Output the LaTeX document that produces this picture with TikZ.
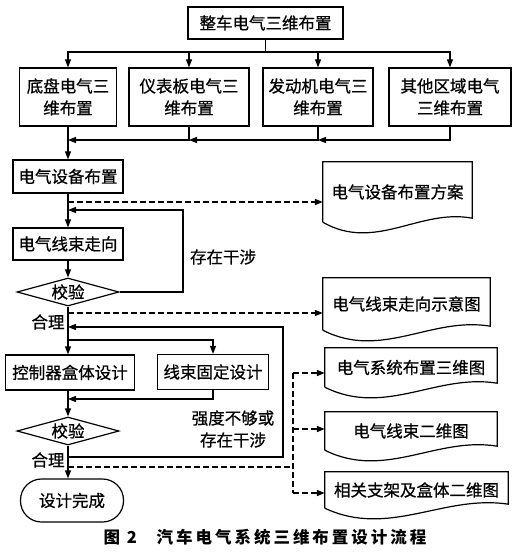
\documentclass[tikz,border=0pt]{standalone}
\usepackage{fontspec}
\setmainfont{Noto Sans CJK SC}[FakeBold=0.7]
\newfontfamily\capfont[LetterSpace=18]{Noto Sans CJK SC}
\usetikzlibrary{shapes.geometric,arrows.meta,calc}
\newcommand\docpath[1]{\draw[lin] (#1.south west) -- (#1.north west) -- (#1.north east) -- ($(#1.south east)+(0pt,4pt)$) .. controls ($(#1.south west)!0.65!(#1.south east)+(0pt,14pt)$) and ($(#1.south west)!0.35!(#1.south east)+(0pt,-30pt)$) .. (#1.south west);}
\begin{document}
\begin{tikzpicture}[x=1pt,y=-1pt,
  txt/.style={font=\fontsize{16.5}{22}\selectfont},
  box/.style={txt,draw,line width=1.2pt,inner sep=0pt,align=center},
  dm/.style={txt,diamond,draw,line width=1.2pt,aspect=3.6,inner sep=0pt,minimum width=102pt,minimum height=28pt},
  docn/.style={txt,inner sep=0pt},
  lin/.style={line width=1.2pt},
  arr/.style={line width=1.2pt,-{Triangle[length=8pt,width=6pt]}},
  darr/.style={arr,line width=1.6pt,dash pattern=on 6pt off 3pt},
  dlin/.style={line width=1.6pt,dash pattern=on 6pt off 3pt}]
\useasboundingbox (0,0) rectangle (529,556);
% top
\node[box,minimum width=155pt,minimum height=32pt] (top) at (265.5,23) {整车电气三维布置};
\node[box,minimum width=97pt,minimum height=58pt] (b1) at (68,97) {底盘电气三\\维布置};
\node[box,minimum width=120pt,minimum height=58pt] (b2) at (189,97) {仪表板电气三\\维布置};
\node[box,minimum width=110pt,minimum height=58pt] (b3) at (318,97) {发动机电气三\\维布置};
\node[box,minimum width=122pt,minimum height=58pt] (b4) at (450,97) {其他区域电气\\三维布置};
\coordinate (j) at (265.5,52);
\draw[lin] (top.south) -- (j);
\draw[arr] (j) -| (b1.north);
\draw[arr] (j) -| (b2.north);
\draw[arr] (j) -| (b3.north);
\draw[arr] (j) -| (b4.north);
\coordinate (jb) at (68,140);
\draw[arr] (b4.south) |- (b3.south |- jb);
\draw[arr] (b3.south) |- (b2.south |- jb);
\draw[arr] (b2.south) |- (b1.south |- jb);
% device layout
\node[box,minimum width=110pt,minimum height=33pt] (dev) at (68,176.5) {电气设备布置};
\draw[arr] (b1.south) -- (dev.north);
\node[docn,minimum width=149pt,minimum height=60pt] (d1) at (397.5,192) {电气设备布置方案};
\docpath{d1}
\coordinate (t1) at (68,202);
\draw[darr] (t1) -- (t1 -| d1.west);
% wiring
\node[box,minimum width=110pt,minimum height=32pt] (wire) at (68,244) {电气线束走向};
\draw[arr] (dev) -- (wire);
\node[dm] (v1) at (68,292) {校验};
\draw[arr] (wire) -- (v1);
\coordinate (r1) at (183,210);
\draw[arr] (v1.east) -| (r1) -- (wire.north |- r1);
\node[txt] (l1) at (223,257) {存在干涉};
\node[txt] (ok1) at (48,322) {合理};
\node[docn,minimum width=167pt,minimum height=52pt] (d2) at (406.5,304) {电气线束走向示意图};
\docpath{d2}
\coordinate (t2) at (68,313);
\draw[darr] (t2) -- (t2 -| d2.west);
% design
\node[box,minimum width=129pt,minimum height=35pt] (ctrl) at (70,372.5) {控制器盒体设计};
\draw[arr] (v1.south) -- (v1.south |- ctrl.north);
\coordinate (t3) at (68,340);
\node[box,minimum width=111pt,minimum height=35pt] (fix) at (213,372) {线束固定设计};
\draw[arr] (t3) -| (fix.north);
\coordinate (t6) at (68,399);
\draw[arr] (fix.south) |- (t6);
\node[dm] (v2) at (68,431) {校验};
\draw[arr] (v1.south |- ctrl.south) -- (v2.north);
\coordinate (t4) at (68,457);
\coordinate (r2) at (283,457);
\coordinate (t5) at (68,327);
\draw[arr] (t4) -- (r2) |- (t5);
\node[txt,align=center] (l2) at (233,429) {强度不够或\\存在干涉};
\node[txt] (ok2) at (48,460) {合理};
\node[box,rounded corners=21pt,minimum width=103pt,minimum height=43pt] (end) at (72,500.5) {设计完成};
\draw[arr] (v2.south) -- (v2.south |- end.north);
% output docs
\node[docn,minimum width=172pt,minimum height=39pt] (d3) at (411,367.5) {电气系统布置三维图};
\docpath{d3}
\node[docn,minimum width=172pt,minimum height=38pt] (d4) at (411,431) {电气线束二维图};
\docpath{d4}
\node[docn,minimum width=183pt,minimum height=36pt] (d5) at (416.5,490) {相关支架及盒体二维图};
\docpath{d5}
\coordinate (t7) at (68,467);
\coordinate (vd) at (293,467);
\coordinate (a3) at (293,373);
\coordinate (a4) at (293,429);
\coordinate (a5) at (293,493);
\draw[dlin] (t7) -- (vd);
\draw[dlin] (a3) -- (a5);
\draw[darr] (a3) -- (a3 -| d3.west);
\draw[darr] (a4) -- (a4 -| d4.west);
\draw[darr] (a5) -- (a5 -| d5.west);
% caption
\node[font=\capfont\bfseries\fontsize{16.5}{20}\selectfont] (cap) at (265,537) {图 2\hspace{1.2em}汽车电气系统三维布置设计流程};
\end{tikzpicture}
\end{document}
